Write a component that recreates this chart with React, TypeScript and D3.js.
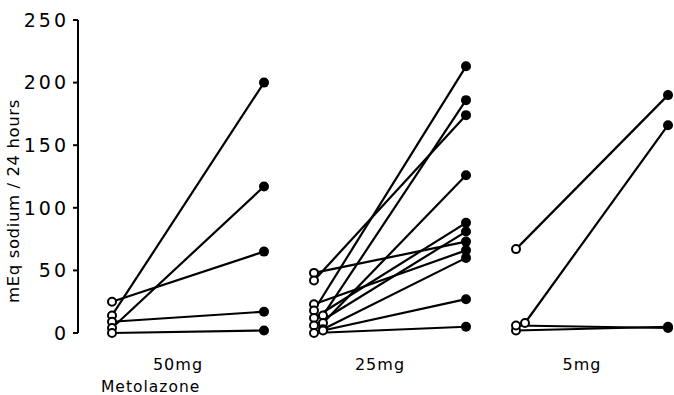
import React from 'react';
import * as d3 from 'd3';

// Metolazone dose groups
const doses = ['50mg', '25mg', '5mg'];

// sodium excretion (mEq / 24 h) before (open) and after (filled), per patient
const before50 = [25, 14, 9, 4, 0];
const after50 = [65, 200, 17, 117, 2];

const before25 = [48, 42, 23, 18, 14, 12, 8, 6, 3, 2, 0];
const after25 = [73, 174, 66, 213, 186, 88, 126, 81, 60, 27, 5];

const before5 = [67, 8, 2, 6];
const after5 = [190, 166, 5, 4];

const yTicks = [0, 50, 100, 150, 200, 250];

const groups = [
  { label: doses[0], before: before50, after: after50 },
  { label: doses[1], before: before25, after: after25 },
  { label: doses[2], before: before5, after: after5 },
];

const width = 674;
const height = 395;
const font = "'DejaVu Sans', sans-serif";

const yScale = d3.scaleLinear().domain([0, 250]).range([333, 20]);
const groupX = d3.scaleLinear().domain([0, 2]).range([112, 516]);
const pairSpan = 152;

// push overlapping open circles into a second column
function dodge(values: number[]) {
  const order = d3.range(values.length).sort((a, b) => values[a] - values[b]);
  const col: number[] = new Array(values.length).fill(0);
  let lastY: number | null = null;
  order.forEach(i => {
    const y = yScale(values[i]);
    if (lastY !== null && Math.abs(lastY - y) < 4.5) {
      col[i] = 1;
    } else {
      lastY = y;
    }
  });
  return col;
}

const App = () => {
  return (
    <svg width={width} height={height} style={{ position: 'absolute', left: 0, top: 0 }}>
      <rect width={width} height={height} fill="#fff" />
      {/* y axis */}
      <line x1={78} x2={78} y1={yScale(250)} y2={yScale(0)} stroke="#000" strokeWidth={2} />
      {yTicks.map(t => (
        <g key={t} transform={`translate(0, ${yScale(t)})`}>
          <line x1={73} x2={78} stroke="#000" strokeWidth={2} />
          <text x={69} dy="0.36em" textAnchor="end" fontFamily={font} fontSize={19}
            letterSpacing={3} fill="#000">{t}</text>
        </g>
      ))}
      <text transform="translate(19, 201) rotate(-90)" textAnchor="middle" fontFamily={font}
        fontSize={16.5} letterSpacing={0.6} fill="#000">mEq sodium / 24 hours</text>

      {groups.map((g, gi) => {
        const x0 = groupX(gi);
        const x1 = x0 + pairSpan;
        const cols = dodge(g.before);
        return (
          <g key={g.label}>
            {g.before.map((b, i) => (
              <line key={'l' + i} x1={x0 + cols[i] * 9} y1={yScale(b)} x2={x1} y2={yScale(g.after[i])}
                stroke="#000" strokeWidth={2.2} />
            ))}
            {g.after.map((a, i) => (
              <circle key={'f' + i} cx={x1} cy={yScale(a)} r={5} fill="#000" />
            ))}
            {g.before.map((b, i) => (
              <circle key={'o' + i} cx={x0 + cols[i] * 9} cy={yScale(b)} r={4} fill="#fff"
                stroke="#000" strokeWidth={2} />
            ))}
            <text x={x0 + 66} y={370} textAnchor="middle" fontFamily={font} fontSize={16}
              letterSpacing={1} fill="#000">{g.label}</text>
          </g>
        );
      })}
      <text x={101} y={392} fontFamily={font} fontSize={15.5} letterSpacing={1} fill="#000">Metolazone</text>
    </svg>
  );
};

export default App;
